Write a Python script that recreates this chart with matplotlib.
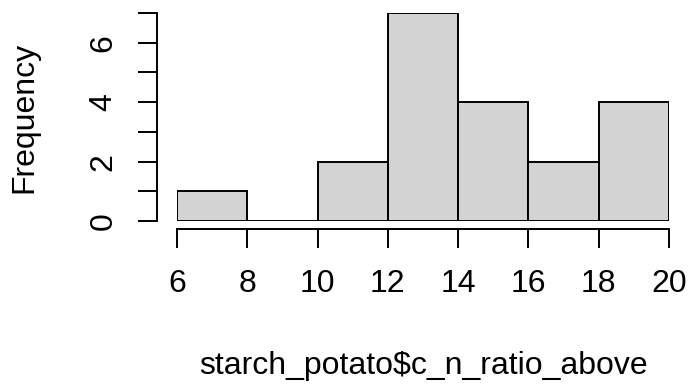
import matplotlib.pyplot as plt
import numpy as np

plt.rcParams['font.family'] = ['Liberation Sans', 'DejaVu Sans']

# histogram of starch_potato$c_n_ratio_above
bin_edges = [6, 8, 10, 12, 14, 16, 18, 20]
counts = [1, 0, 2, 7, 4, 2, 4]
y_ticks = [0, 1, 2, 3, 4, 5, 6, 7]
y_ticklabels = ['0', '', '2', '', '4', '', '6', '']

fig = plt.figure(figsize=(6.88, 3.85), dpi=100)
# data area: x 6..20 -> px 177..669, y 0..7 -> px 221..13
ax = fig.add_axes([177/688, (385-221)/385, 492/688, 208/385])

ax.bar(bin_edges[:-1], counts, width=np.diff(bin_edges), align='edge',
       color='#D3D3D3', edgecolor='black', linewidth=1.4)

ax.set_xlim(6, 20)
ax.set_ylim(0, 7)
ax.set_xticks(bin_edges)
ax.set_yticks(y_ticks)
ax.set_yticklabels(y_ticklabels)

for s in ['top', 'right']:
    ax.spines[s].set_visible(False)
ax.spines['left'].set_position(('outward', 14.5))
ax.spines['bottom'].set_position(('outward', 6))
ax.spines['left'].set_bounds(0, 7)
ax.spines['bottom'].set_bounds(6, 20)
for s in ['left', 'bottom']:
    ax.spines[s].set_linewidth(1.4)
ax.tick_params(length=13.7, width=1.4, labelsize=23)
ax.tick_params(axis='x', pad=15)
ax.tick_params(axis='y', pad=14, labelrotation=90)
for lab in ax.get_yticklabels():
    lab.set_va('center')

ax.set_xlabel('starch_potato$c_n_ratio_above', fontsize=23)
ax.xaxis.label.set_va('baseline')
ax.xaxis.set_label_coords(0.5, (221-374)/208)
ax.set_ylabel('Frequency', fontsize=23)
ax.yaxis.label.set_va('center')
ax.yaxis.set_label_coords((24-177)/492, 0.5)

fig.savefig('out.png', dpi=100)
